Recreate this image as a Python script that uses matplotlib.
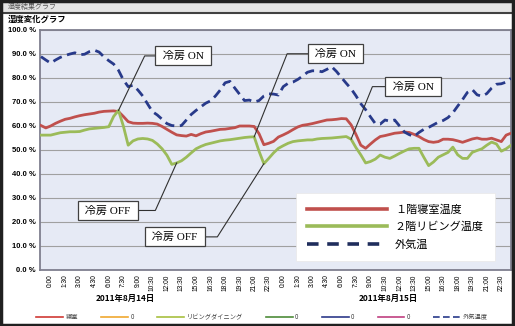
import matplotlib
matplotlib.use("Agg")
import matplotlib.pyplot as plt
from matplotlib.lines import Line2D
from matplotlib.patches import Rectangle
import numpy as np

W, H = 515, 326

# half-hourly humidity readings (%), first sample at 23:00 the night before
outside = [88.9, 87.5, 86.2, 87.5, 88.6, 89.4, 90.0, 90.5, 89.7, 89.9,
           91.0, 91.6, 90.8, 88.8, 87.2, 85.8, 83.2, 79.2, 76.4, 77.0,
           75.0, 72.5, 69.2, 66.0, 64.6, 62.8, 61.0, 60.2, 60.0, 60.2,
           62.5, 64.8, 66.5, 68.0, 69.5, 70.5, 72.5, 75.0, 78.0, 78.6,
           75.8, 73.2, 70.6, 70.8, 70.0, 70.6, 72.5, 73.4, 73.3, 72.9,
           76.4, 77.8, 78.3, 79.4, 80.8, 82.4, 83.0, 83.0, 82.6, 83.6,
           84.7, 82.7, 80.2, 77.8, 75.5, 72.6, 69.3, 66.8, 63.8, 61.0,
           60.8, 62.5, 62.0, 62.5, 60.0, 57.5, 56.4, 55.6, 57.3, 58.6,
           59.4, 60.5, 61.6, 62.3, 63.5, 65.5, 68.3, 71.0, 74.0, 75.2,
           73.0, 72.4, 73.5, 75.8, 77.4, 77.6, 78.3, 79.9]
bedroom = [60.2, 59.2, 60.0, 61.1, 62.0, 62.8, 63.2, 63.8, 64.3, 64.7,
           65.0, 65.3, 65.8, 66.1, 66.2, 66.3, 66.0, 64.0, 61.8, 61.2,
           61.1, 61.1, 61.2, 61.1, 60.8, 59.8, 58.6, 57.4, 56.3, 56.0,
           55.8, 56.5, 55.9, 56.8, 57.5, 57.8, 58.2, 58.6, 58.7, 59.0,
           59.3, 60.0, 60.0, 60.0, 59.8, 56.8, 52.2, 52.8, 53.6, 55.4,
           56.3, 57.3, 58.5, 59.6, 60.3, 60.6, 61.0, 61.5, 62.0, 62.5,
           62.6, 62.8, 63.1, 63.0, 60.5, 56.5, 52.0, 50.7, 52.5, 54.2,
           55.6, 56.0, 56.5, 57.0, 57.2, 57.5, 57.3, 56.5, 55.6, 54.4,
           53.5, 53.2, 53.5, 54.5, 54.5, 54.3, 53.8, 53.2, 53.9, 54.6,
           55.0, 54.5, 54.5, 54.9, 54.2, 53.5, 56.2, 57.0]
living = [56.2, 56.2, 56.2, 56.7, 57.2, 57.4, 57.6, 57.6, 57.7, 58.3,
          58.8, 59.0, 59.2, 59.4, 59.7, 64.0, 66.5, 60.0, 52.0, 53.8,
          54.6, 54.8, 54.6, 54.0, 52.5, 50.5, 47.8, 44.0, 44.6, 45.5,
          47.0, 48.8, 50.5, 51.5, 52.3, 52.8, 53.3, 53.8, 54.1, 54.3,
          54.6, 54.9, 55.2, 55.4, 55.5, 49.5, 44.3, 46.5, 48.8, 50.7,
          51.8, 52.8, 53.5, 53.8, 54.0, 54.2, 54.2, 54.6, 54.8, 54.9,
          55.0, 55.2, 55.4, 55.6, 54.5, 51.0, 48.0, 44.6, 45.2, 46.2,
          47.9, 47.0, 46.5, 47.5, 48.6, 49.6, 50.5, 50.7, 50.7, 47.0,
          43.5, 45.0, 47.0, 48.0, 49.0, 51.2, 48.0, 46.5, 46.5, 49.0,
          49.8, 50.5, 52.0, 53.3, 52.5, 49.5, 50.5, 52.0]

clock = ["0:00", "1:30", "3:00", "4:30", "6:00", "7:30", "9:00", "10:30",
         "12:00", "13:30", "15:00", "16:30", "18:00", "19:30", "21:00", "22:30"]
days = ["2011年8月14日", "2011年8月15日"]
series_names = ["１階寝室温度", "２階リビング温度", "外気温"]

# (label, sample index on the living-room line the leader points to)
events = [("冷房 ON", 16), ("冷房 OFF", 28), ("冷房 ON", 44),
          ("冷房 OFF", 46), ("冷房 ON", 64)]
# box centre and elbow of each leader, in (hours, %)
event_boxes = [((13.65, 89.2), (9.7, 89.2)),
               ((5.9, 24.8), (10.8, 24.8)),
               ((29.4, 90.1), (24.4, 90.1)),
               ((12.8, 13.8), (17.2, 13.8)),
               ((37.4, 76.4), (33.2, 76.4))]

RED = "#c0504d"
GREEN = "#9bbb59"
NAVY = "#283a8a"
JP = ["Noto Sans CJK JP", "DejaVu Sans"]
SERIF = ["Liberation Serif", "Noto Sans CJK JP"]

plt.rcParams["font.family"] = JP

hours = np.arange(len(outside)) * 0.5 - 1.0


def fx(x):
    return x / W


def fy(y):
    return 1 - y / H


fig = plt.figure(figsize=(W / 100, H / 100), dpi=100)

# window frame and title bar
fig.patches.append(Rectangle((0, fy(12)), 1, fy(1) - fy(12), transform=fig.transFigure,
                             fc="#e4e4e4", ec="none", zorder=0))
fig.lines.append(Line2D([0, 1], [fy(12.5), fy(12.5)], transform=fig.transFigure,
                        color="#404040", lw=1.5))
fig.patches.append(Rectangle((0.002, 0.003), 0.995, 0.994, transform=fig.transFigure,
                             fill=False, ec="#202020", lw=2.5, zorder=10))
fig.text(fx(8), fy(6.5), "湿度結果グラフ", fontsize=5, color="#555555", va="center")
fig.text(fx(8), fy(19.5), "湿度変化グラフ", fontsize=6, fontweight="bold", va="center")

ax = fig.add_axes([fx(40), fy(270), fx(511) - fx(40), fy(30) - fy(270)])
ax.set_facecolor("#e6eaf5")
ax.plot(hours, bedroom, color=RED, lw=2.0, zorder=3)
ax.plot(hours, living, color=GREEN, lw=2.0, zorder=3)
ax.plot(hours, outside, color=NAVY, lw=2.0, dashes=(3.4, 2.0), zorder=3)

ax.set_xlim(-1.1, 47.5)
ax.set_ylim(0, 100)
ax.set_yticks(np.arange(0, 101, 10))
ax.set_yticklabels([f"{v:.1f} %" for v in np.arange(0, 101, 10)],
                   fontsize=5.5, fontweight="bold", family="Liberation Sans")
ax.set_xticks(np.arange(len(clock) * 2) * 1.5)
ax.set_xticklabels(clock * 2, rotation=90, fontsize=4.8, family="Liberation Sans")
ax.tick_params(length=0, pad=3)
ax.yaxis.grid(True, color="#a0a0a0", lw=0.8)
ax.set_axisbelow(True)
for s in ax.spines.values():
    s.set_color("#7f7f8f")
    s.set_linewidth(1.3)

for (label, k), (box, elbow) in zip(events, event_boxes):
    ax.plot([box[0], elbow[0], hours[k]], [box[1], elbow[1], living[k]],
            color="#303030", lw=0.8, zorder=4)
    ax.text(box[0], box[1], " " + label + " ", ha="center", va="center", fontsize=8,
            family=SERIF, zorder=6,
            bbox=dict(boxstyle="square,pad=0.4", fc="white", ec="#404040", lw=0.9))

handles = [Line2D([], [], color=RED, lw=2.6),
           Line2D([], [], color=GREEN, lw=2.6),
           Line2D([], [], color="#1f2d5c", lw=2.6, dashes=(3.2, 2.4))]
leg = ax.legend(handles, series_names, loc="upper left",
                bbox_to_anchor=(fx(296), fy(193)), bbox_transform=fig.transFigure,
                prop=dict(family=SERIF, size=8), handlelength=7.2, handletextpad=0.7,
                labelspacing=0.62, borderpad=1.0, borderaxespad=0, frameon=True,
                fancybox=False, framealpha=1)
leg.get_frame().set_edgecolor("#e8e8e8")
leg.get_frame().set_linewidth(0.5)
leg.set_zorder(7)

fig.text(fx(125), fy(298), days[0], fontsize=6, fontweight="bold", ha="center", va="center")
fig.text(fx(388), fy(298), days[1], fontsize=6, fontweight="bold", ha="center", va="center")

# spreadsheet series key along the bottom
key_names = ["寝室", "0", "リビングダイニング", "0", "0", "0", "外気温度"]
key_colors = ["#d03a35", "#f0a830", "#a8c040", "#4e8c3a", "#2e3a8a", "#c04080", NAVY]
key_handles = [Line2D([], [], color=c, lw=1.2) for c in key_colors[:-1]]
key_handles.append(Line2D([], [], color=NAVY, lw=1.2, dashes=(4, 2)))
fig.legend(key_handles, key_names, loc="center", bbox_to_anchor=(fx(262), fy(317)),
           ncol=7, fontsize=4.5, handlelength=4.3, handletextpad=0.4,
           columnspacing=3.7, frameon=False, labelcolor="#404040")

fig.savefig("out.png", dpi=100)
